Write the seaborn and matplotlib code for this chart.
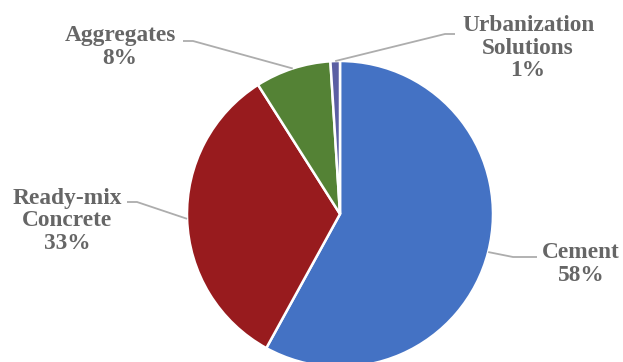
import numpy as np
import matplotlib
matplotlib.use("Agg")
import matplotlib.pyplot as plt
import seaborn as sns

# Revenue share by business segment
segments = ["Cement", "Ready-mix Concrete", "Aggregates", "Urbanization Solutions"]
shares = [58, 33, 8, 1]
colors = ["#4472C4", "#981B1E", "#548235", "#5B5FA3"]

# label block centres and leader elbows, in pixel units (origin top-left)
label_pos = [(581, 264), (67, 221), (120, 47), (528, 48)]
elbows = [[(513, 257), (537, 257)],
          [(137, 202), (127, 202)],
          [(193, 41), (183, 41)],
          [(445, 34), (455, 34)]]

W, H = 623, 362
sns.set_theme(style="white")
plt.rcParams["font.family"] = ["Liberation Serif", "DejaVu Serif"]

fig = plt.figure(figsize=(W / 100, H / 100), dpi=100)
ax = fig.add_axes([0, 0, 1, 1])

cx, cy, r = 340, 214, 153
wedges, _ = ax.pie(shares, colors=colors, startangle=90, counterclock=False,
                   center=(cx, H - cy), radius=r,
                   wedgeprops=dict(edgecolor="white", linewidth=1.8))
ax.set_xlim(0, W)
ax.set_ylim(0, H)
ax.set_aspect("equal")
ax.axis("off")

text_color = "#666666"
line_color = "#ADADAD"
for w, name, val, (tx, ty), elb in zip(wedges, segments, shares, label_pos, elbows):
    mid = np.deg2rad((w.theta1 + w.theta2) / 2)
    ax_pt = (cx + r * np.cos(mid), (H - cy) + r * np.sin(mid))
    xs = [ax_pt[0]] + [p[0] for p in elb]
    ys = [ax_pt[1]] + [H - p[1] for p in elb]
    ax.plot(xs, ys, color=line_color, lw=1.3, solid_capstyle="butt", zorder=1)
    ax.text(tx, H - ty, f"{name.replace(' ', chr(10))}\n{val}%",
            ha="center", va="center", multialignment="center",
            fontsize=16.8, fontweight="bold", color=text_color,
            linespacing=1.12)

fig.savefig("out.png", dpi=100, facecolor="white")
